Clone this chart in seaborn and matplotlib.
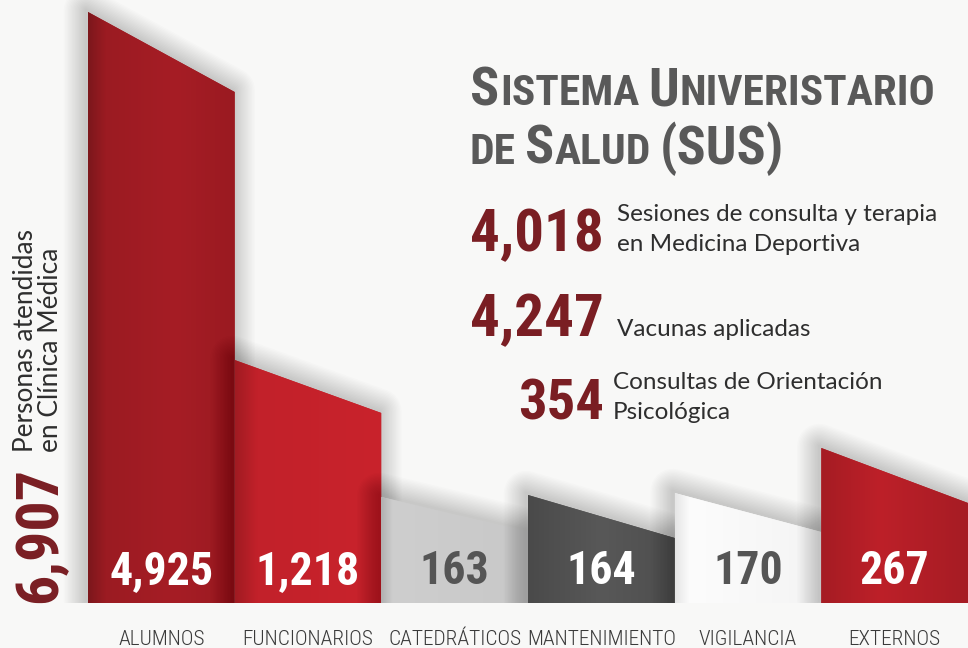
import os
import numpy as np
import pandas as pd
import matplotlib
matplotlib.use("Agg")
import matplotlib.pyplot as plt
import seaborn as sns
from matplotlib import font_manager
from matplotlib.font_manager import FontProperties
from matplotlib.patches import Polygon
from matplotlib.colors import LinearSegmentedColormap
from matplotlib.transforms import ScaledTranslation

# ---------------- data ----------------
categories = ["ALUMNOS", "FUNCIONARIOS", "CATEDRÁTICOS", "MANTENIMIENTO", "VIGILANCIA", "EXTERNOS"]
values = [4925, 1218, 163, 164, 170, 267]
# the infographic is not drawn to scale: drawn height of the front (left) and back (right) edge of each bar
bar_height_left = [591, 243, 106, 108, 110, 155]
bar_height_right = [511, 190, 71, 65, 71, 100]
total_value = 6907
total_caption = ["Personas atendidas", "en Clínica Médica"]
stat_values = [4018, 4247, 354]
stat_captions = [["Sesiones de consulta y terapia", "en Medicina Deportiva"],
                 ["Vacunas aplicadas"],
                 ["Consultas de Orientación", "Psicológica"]]
title_lines = ["SISTEMA UNIVERISTARIO", "DE SALUD (SUS)"]

# ---------------- style ----------------
W, H = 968, 648
BG = "#f8f8f7"
DARK_RED = "#7a1e23"
TITLE_GRAY = "#595959"
TEXT = "#2e2e2e"
bar_colors = ["#a31c24", "#c4212a", "#cbcbcb", "#555555", "#f8f8f8", "#b81f27"]
bar_gradients = [
    [(0, "#7c171c"), (0.12, "#9b1b22"), (0.6, "#a61d25"), (1, "#9a1a21")],
    [(0, "#a01b22"), (0.15, "#c2212a"), (1, "#c9232c")],
    [(0, "#b0b0b0"), (0.08, "#cecece"), (1, "#c8c8c8")],
    [(0, "#4a4a4a"), (0.5, "#585858"), (1, "#4e4e4e")],
    [(0, "#e6e6e6"), (0.1, "#fcfcfc"), (1, "#f4f4f4")],
    [(0, "#a51c23"), (0.4, "#bd2029"), (1, "#a61c24")],
]
value_colors = ["white", "white", "#555555", "white", "#555555", "white"]

sns.set_theme(style="white")
plt.rcParams["font.family"] = ["Liberation Sans", "DejaVu Sans"]


def _weight(f):
    w = f.weight
    if isinstance(w, str):
        w = {"ultralight": 200, "light": 300, "normal": 400, "regular": 400, "book": 400,
             "medium": 500, "semibold": 600, "demibold": 600, "bold": 700, "heavy": 800,
             "extra bold": 800, "black": 900}.get(w.lower(), 400)
    return w


def pick_condensed(target_weight, fallback_family):
    order = [("robotocondensed", 0), ("liberationsansnarrow", 1), ("dejavusanscondensed", 2),
             ("opensanscondensed", 3)]
    best = None
    for f in font_manager.fontManager.ttflist:
        fn = os.path.basename(f.fname).lower().replace("-", "").replace("_", "").replace(" ", "")
        nm = f.name.lower().replace(" ", "")
        if f.style != "normal" or "italic" in fn or "oblique" in fn or "mono" in fn:
            continue
        rank = None
        for key, r in order:
            if key in fn or key in nm:
                rank = r
                break
        if rank is None:
            if "notosans" in fn and "condensed" in fn and not any(s in fn for s in ("semi", "extra", "ultra")):
                rank = 4
            elif f.stretch == "condensed":
                rank = 5
        if rank is None:
            continue
        score = (rank, abs(_weight(f) - target_weight))
        if best is None or score < best[0]:
            best = (score, f.fname)
    if best:
        return FontProperties(fname=best[1])
    return FontProperties(family=fallback_family, weight=target_weight)


COND_BOLD = pick_condensed(700, "Liberation Sans")
COND_LIGHT = pick_condensed(300, "Liberation Sans")
SANS = FontProperties(family=["Lato", "Liberation Sans", "DejaVu Sans"], weight="normal")


def fp(base, size):
    p = base.copy()
    p.set_size(size)
    return p


fig = plt.figure(figsize=(W / 100, H / 100), dpi=100, facecolor=BG)
renderer = fig.canvas.get_renderer()


def px(x, y):
    return x / W, 1 - y / H


def width(t):
    return t.get_window_extent(renderer).width


# ---------------- bars ----------------
ax = fig.add_axes([0, 45 / H, 1, 603 / H])
ax.set_facecolor("none")
df = pd.DataFrame({"categoria": categories, "altura": bar_height_left, "valor": values})
sns.barplot(data=df, x="categoria", y="altura", hue="categoria", palette=bar_colors,
            width=1.0, saturation=1, legend=False, ax=ax, edgecolor="none", linewidth=0)

bars = sorted([p for p in ax.patches], key=lambda p: p.get_x())
for i, p in enumerate(bars):
    x0, w = p.get_x(), p.get_width()
    hl, hr = bar_height_left[i], bar_height_right[i]
    verts = [(x0, 0), (x0, hl), (x0 + w, hr), (x0 + w, 0)]
    z = 10 + 3 * i
    clip = Polygon(verts, closed=True, transform=ax.transData)
    p.set_clip_path(clip)
    p.set_zorder(z)
    # soft drop shadow
    off = ScaledTranslation(-2 / 100, 2 / 100, fig.dpi_scale_trans)
    for lw in np.linspace(2, 32, 16):
        ax.add_patch(Polygon(verts, closed=True, facecolor="none", edgecolor="black",
                             linewidth=lw, alpha=0.011, joinstyle="round",
                             transform=ax.transData + off, zorder=z - 1))
    # shading
    cmap = LinearSegmentedColormap.from_list(f"g{i}", bar_gradients[i])
    im = ax.imshow(np.linspace(0, 1, 256)[None, :], extent=[x0, x0 + w, 0, hl], cmap=cmap,
                   aspect="auto", interpolation="bilinear", zorder=z + 0.5)
    im.set_clip_path(Polygon(verts, closed=True, transform=ax.transData))

ax.set_xlim(-0.5 - 88 / (880 / 6), 5.5)
ax.set_ylim(0, 603)
ax.axis("off")

# value labels inside bars and category labels below
val_texts = []
for i, p in enumerate(bars):
    cx = p.get_x() + p.get_width() / 2
    t = ax.text(cx, 19, f"{values[i]:,}", ha="center", va="baseline", color=value_colors[i],
                fontproperties=fp(COND_BOLD, 33), zorder=40)
    val_texts.append(t)
scale = min(1.0, 118 / width(val_texts[0]))
for t in val_texts:
    t.set_fontproperties(fp(COND_BOLD, 33 * scale))

cat_texts = []
for i, p in enumerate(bars):
    cx = p.get_x() + p.get_width() / 2
    t = ax.text(cx, -42, categories[i], ha="center", va="baseline", color="#3a3a3a",
                fontproperties=fp(COND_LIGHT, 20), clip_on=False, zorder=40)
    cat_texts.append(t)
s = min([1.0] + [150 / width(t) for t in cat_texts])
for t in cat_texts:
    t.set_fontproperties(fp(COND_LIGHT, 20 * s))

# ---------------- left rotated total ----------------
t = fig.text(*px(56, 603), f"{total_value:,}", rotation=90, rotation_mode="anchor",
             ha="left", va="baseline", color=DARK_RED, fontproperties=fp(COND_BOLD, 48))
s = 136 / t.get_window_extent(renderer).height
if s < 1:
    t.set_fontproperties(fp(COND_BOLD, 48 * s))
cap_texts = []
for line, xb in zip(total_caption, (33, 58)):
    tt = fig.text(*px(xb, 452), line, rotation=90, rotation_mode="anchor", ha="left",
                  va="baseline", color=TEXT, fontproperties=fp(SANS, 19))
    cap_texts.append(tt)
s = min(1.0, 222 / cap_texts[0].get_window_extent(renderer).height)
for tt in cap_texts:
    tt.set_fontproperties(fp(SANS, 19 * s))

# ---------------- title (small caps) ----------------
BIG, SMALL = 46, 37


def runs_for(line):
    words = []
    for word in line.split(" "):
        if word.startswith("("):
            words.append([(word, BIG)])
        elif word == "DE":
            words.append([(word, SMALL)])
        else:
            words.append([(word[0], BIG), (word[1:], SMALL)])
    return words


def draw_title_line(x0, yb, line, k):
    texts = []
    x = x0
    for wi, word in enumerate(runs_for(line)):
        if wi:
            x += 0.24 * SMALL * k
        for s_, size in word:
            t_ = fig.text(*px(x, yb), s_, ha="left", va="baseline", color=TITLE_GRAY,
                          fontproperties=fp(COND_BOLD, size * k))
            x = t_.get_window_extent(renderer).x1 + 1
            texts.append(t_)
    return texts, x - x0


texts, wline = draw_title_line(470, 105, title_lines[0], 1.0)
k = 1.0
if wline > 465:
    k = 465 / wline
    for t_ in texts:
        t_.remove()
    draw_title_line(470, 105, title_lines[0], k)
draw_title_line(470, 164, title_lines[1], k)

# ---------------- side statistics ----------------
stat_baselines = [251, 336, 419]
stat_sizes = [46, 46, 44]
num_texts = []
for v, yb, sz in zip(stat_values, stat_baselines, stat_sizes):
    tn = fig.text(*px(604, yb), f"{v:,}", ha="right", va="baseline", color=DARK_RED,
                  fontproperties=fp(COND_BOLD, sz))
    num_texts.append(tn)
s = min(1.0, 134 / width(num_texts[1]))
for tn, sz in zip(num_texts, stat_sizes):
    tn.set_fontproperties(fp(COND_BOLD, sz * s))

cap_x = [617, 617, 613]
all_caps = []
for lines, yb, xc in zip(stat_captions, stat_baselines, cap_x):
    n = len(lines)
    for j, line in enumerate(lines):
        y = yb - (n - 1 - j) * 30
        tc = fig.text(*px(xc, y), line, ha="left", va="baseline", color=TEXT,
                      fontproperties=fp(SANS, 17.5))
        all_caps.append(tc)
s = min(1.0, 326 / width(all_caps[0]))
for tc in all_caps:
    tc.set_fontproperties(fp(SANS, 17.5 * s))

fig.savefig("out.png", dpi=100, facecolor=BG)
